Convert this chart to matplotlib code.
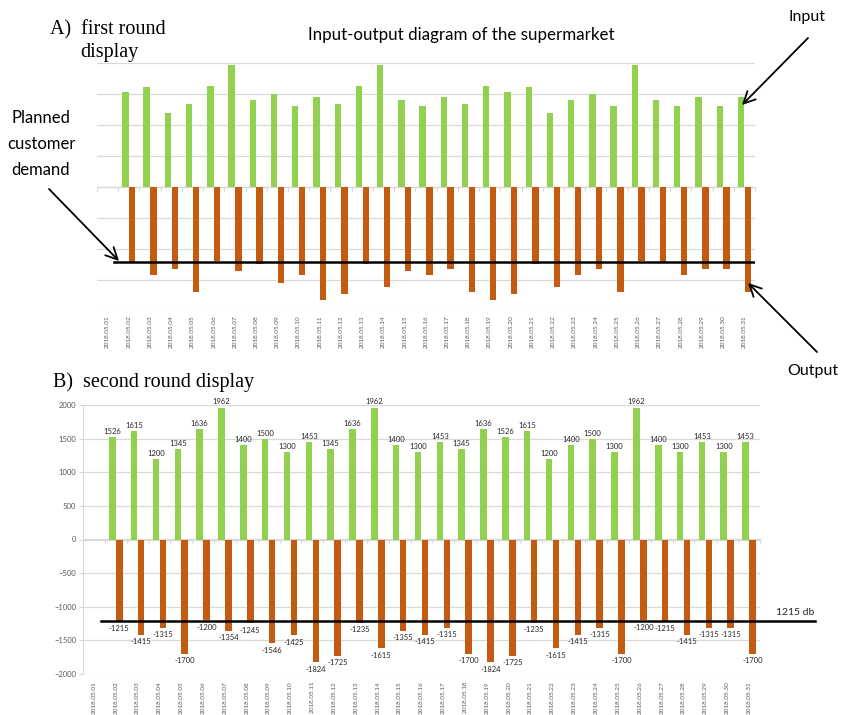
import matplotlib.pyplot as plt
from matplotlib.patches import FancyArrowPatch
import numpy as np

dates = ["2018.05.%02d" % d for d in range(1, 32)]

# daily input (goods received), 2018.05.02 - 2018.05.31
input_qty = [1526, 1615, 1200, 1345, 1636, 1962, 1400, 1500, 1300, 1453,
             1345, 1636, 1962, 1400, 1300, 1453, 1345, 1636, 1526, 1615,
             1200, 1400, 1500, 1300, 1962, 1400, 1300, 1453, 1300, 1453]
# daily output (goods sold), drawn downwards
output_qty = [-1215, -1415, -1315, -1700, -1200, -1354, -1245, -1546, -1425, -1824,
              -1725, -1235, -1615, -1355, -1415, -1315, -1700, -1824, -1725, -1235,
              -1615, -1415, -1315, -1700, -1200, -1215, -1415, -1315, -1315, -1700]
planned_demand = 1215

GREEN = "#92D050"
ORANGE = "#C55A11"
GRID = "#D9D9D9"
TICKC = "#595959"
SANS = "Lato"
SERIF = "Liberation Serif"

fig = plt.figure(figsize=(8.44, 7.15), dpi=100)
W, H = 844, 715


def px(x, y):
    return (x, H - y)


def draw_panel(ax, labels_on):
    pos = np.arange(1, len(input_qty) + 1)
    ax.bar(pos - 0.16, input_qty, width=0.3, color=GREEN, zorder=3)
    ax.bar(pos + 0.16, output_qty, width=0.3, color=ORANGE, zorder=3)
    ax.set_xlim(-0.5, len(dates) - 0.5)
    ax.set_ylim(-2000, 2000)
    ax.set_yticks(np.arange(-2000, 2001, 500))
    ax.grid(axis="y", color=GRID, lw=0.9, zorder=0)
    ax.set_axisbelow(True)
    ax.set_xticks(range(len(dates)))
    ax.set_xticklabels(dates, rotation=90, fontsize=4.6, color=TICKC, family=SANS)
    ax.tick_params(axis="x", length=0)
    for s in ["top", "right", "bottom"]:
        ax.spines[s].set_visible(False)
    # category axis crossing at zero, with small ticks between categories
    sec = ax.secondary_xaxis(0.5)
    sec.set_xticks(np.arange(-0.5, len(dates), 1.0))
    sec.set_xticklabels([])
    sec.tick_params(axis="x", length=3, color=GRID, direction="in")
    for s in sec.spines.values():
        s.set_color(GRID)
        s.set_linewidth(0.9)
    if labels_on:
        for p, v in zip(pos, input_qty):
            ax.annotate(str(v), (p - 0.16, v), xytext=(0, 1.5), textcoords="offset points",
                        ha="center", va="bottom", fontsize=5.5, family=SANS, color="#262626")
        for p, v in zip(pos, output_qty):
            ax.annotate(str(v), (p + 0.16, v), xytext=(0, -2.5), textcoords="offset points",
                        ha="center", va="top", fontsize=5.5, family=SANS, color="#262626")


# A) first round
ax1 = fig.add_axes([97 / W, 1 - 311 / H, 658 / W, 248 / H])
draw_panel(ax1, labels_on=False)
ax1.spines["left"].set_visible(False)
ax1.tick_params(axis="y", length=0, labelleft=False)
ax1.tick_params(axis="x", pad=3)
ax1.plot([0.3, 30.5], [-planned_demand, -planned_demand], color="black", lw=1.8, zorder=4)

# B) second round
ax2 = fig.add_axes([83 / W, 1 - 674 / H, 677 / W, 269 / H])
draw_panel(ax2, labels_on=True)
ax2.spines["left"].set_color(GRID)
ax2.tick_params(axis="y", length=3, color=GRID, labelsize=5.5, labelcolor=TICKC, pad=2)
for t in ax2.get_yticklabels():
    t.set_family(SANS)
ax2.tick_params(axis="x", pad=5)
ax2.plot([0.32, 33.0], [-planned_demand, -planned_demand], color="black", lw=1.8,
         zorder=4, clip_on=False)
ax2.text(33.0, -planned_demand + 70, "%d db" % planned_demand, ha="right", va="bottom",
         fontsize=7.5, family=SANS, color="#262626")

# titles and annotations
fig.text(*px(50, 30), "A)  first round", transform=None, fontsize=14.5, family=SERIF,
         va="center", ha="left")
fig.text(*px(80, 53), "display", transform=None, fontsize=14.5, family=SERIF,
         va="center", ha="left")
fig.text(*px(53, 382), "B)  second round display", transform=None, fontsize=14.5,
         family=SERIF, va="center", ha="left")
fig.text(*px(461, 35), "Input-output diagram of the supermarket", transform=None,
         fontsize=12.2, family=SANS, va="center", ha="center")
fig.text(*px(807, 17), "Input", transform=None, fontsize=11.5, family=SANS,
         va="center", ha="center")
fig.text(*px(813, 371), "Output", transform=None, fontsize=11.5, family=SANS,
         va="center", ha="center")
fig.text(*px(41, 144), "Planned\ncustomer\ndemand", transform=None, fontsize=12,
         family=SANS, va="center", ha="center", linespacing=1.75)

for start, end in [((808, 38), (742, 105)), ((817, 352), (748, 283)), ((49, 189), (119, 261))]:
    fig.add_artist(FancyArrowPatch(px(*start), px(*end), transform=None,
                                   arrowstyle="->,head_length=0.7,head_width=0.35",
                                   mutation_scale=12, color="black", lw=1.3,
                                   shrinkA=0, shrinkB=0))

fig.savefig("out.png", dpi=100)
